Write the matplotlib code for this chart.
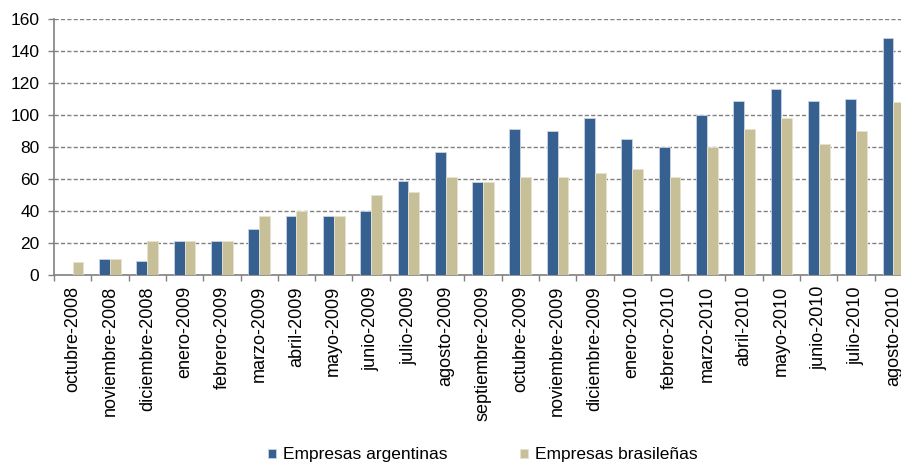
import matplotlib
matplotlib.use("Agg")
import matplotlib.pyplot as plt
import numpy as np

# Datos
meses = [
    "octubre-2008", "noviembre-2008", "diciembre-2008", "enero-2009",
    "febrero-2009", "marzo-2009", "abril-2009", "mayo-2009", "junio-2009",
    "julio-2009", "agosto-2009", "septiembre-2009", "octubre-2009",
    "noviembre-2009", "diciembre-2009", "enero-2010", "febrero-2010",
    "marzo-2010", "abril-2010", "mayo-2010", "junio-2010", "julio-2010",
    "agosto-2010",
]
argentinas = [0, 10, 9, 21, 21, 29, 37, 37, 40, 59, 77, 58, 91, 90, 98,
              85, 80, 100, 109, 116, 109, 110, 148]
brasilenas = [8, 10, 21, 21, 21, 37, 40, 37, 50, 52, 61, 58, 61, 61, 64,
              66, 61, 80, 91, 98, 82, 90, 108]
y_ticks = [0, 20, 40, 60, 80, 100, 120, 140, 160]

AZUL = "#36608F"
BEIGE = "#C7BF98"
GRIS = "#808080"

plt.rcParams["font.family"] = ["Liberation Sans", "DejaVu Sans"]

W, H = 901, 462
fig = plt.figure(figsize=(W / 100, H / 100), dpi=100)
left, right, top, bottom = 54, 912, 19, 275
ax = fig.add_axes([left / W, 1 - bottom / H, (right - left) / W, (bottom - top) / H])

x = np.arange(len(meses))
ancho = 0.29
ax.bar(x - ancho / 2, argentinas, ancho, color=AZUL, edgecolor="#C9D3E3",
       linewidth=0.6, label="Empresas argentinas", zorder=3)
ax.bar(x + ancho / 2, brasilenas, ancho, color=BEIGE, edgecolor="#E6E2CF",
       linewidth=0.6, label="Empresas brasileñas", zorder=3)

ax.set_xlim(-0.5, len(meses) - 0.5)
ax.set_ylim(0, 160)
ax.set_yticks(y_ticks)
ax.yaxis.grid(True, linestyle=(0, (3, 1.6)), color=GRIS, linewidth=1.0, zorder=0)

ax.set_xticks(x)
ax.set_xticklabels(meses, rotation=90, fontsize=13, va="top")
ax.set_xticks(np.arange(len(meses) + 1) - 0.5, minor=True)
ax.tick_params(axis="x", which="major", length=0, pad=8)
ax.tick_params(axis="x", which="minor", length=4, color=GRIS, width=1)
ax.tick_params(axis="y", length=4, color=GRIS, width=1, labelsize=12.5, pad=6.5)

for s in ["top", "right"]:
    ax.spines[s].set_visible(False)
for s in ["left", "bottom"]:
    ax.spines[s].set_color(GRIS)
    ax.spines[s].set_linewidth(1.2)
ax.spines["left"].set_zorder(4)

fig.legend(loc="center left", bbox_to_anchor=(254 / W, 1 - 455 / H), ncol=2,
           frameon=False, fontsize=12.5, handlelength=0.46, handleheight=0.46,
           handletextpad=0.4, columnspacing=4.2, borderpad=0.3)

fig.savefig("out.png", dpi=100)
